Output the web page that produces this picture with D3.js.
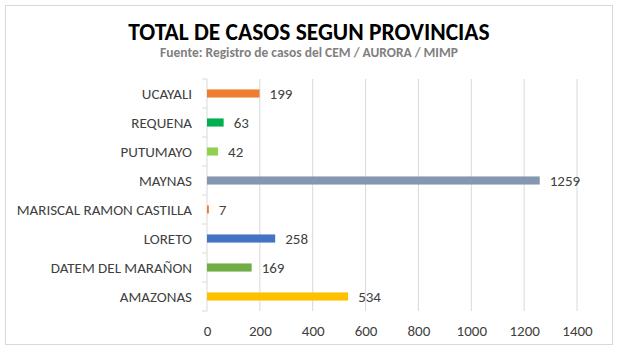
<!DOCTYPE html>
<html>
<head>
<meta charset="utf-8">
<script src="https://cdn.jsdelivr.net/npm/d3@7"></script>
<style>
  body { margin: 0; background: #fff; }
  text { font-family: Carlito, "Liberation Sans", Arial, sans-serif; }
</style>
</head>
<body>
<div id="chart"></div>
<script>
// data, bottom to top as in the picture
var provincias = ["AMAZONAS", "DATEM DEL MARAÑON", "LORETO", "MARISCAL RAMON CASTILLA",
                  "MAYNAS", "PUTUMAYO", "REQUENA", "UCAYALI"];
var casos = [534, 169, 258, 7, 1259, 42, 63, 199];
var colores = ["#FFC000", "#70AD47", "#4472C4", "#ED7D31", "#8497B0", "#92D050", "#00B050", "#ED7D31"];
var xTicks = [0, 200, 400, 600, 800, 1000, 1200, 1400];

var data = provincias.map((d, i) => ({ name: d, value: casos[i], color: colores[i] }));

var W = 623, H = 361;
var margin = {top: 79, right: 46, bottom: 50, left: 207},
    width = 577 - margin.left,
    height = 311 - margin.top;

var svg = d3.select("#chart")
  .append("svg")
    .attr("width", W)
    .attr("height", H);

// chart frame
svg.append("rect")
    .attr("x", 5.5).attr("y", 5.5)
    .attr("width", 607).attr("height", 339)
    .attr("fill", "#fff")
    .attr("stroke", "#d9d9d9");

svg.append("text")
    .attr("x", 309).attr("y", 39.5)
    .attr("text-anchor", "middle")
    .style("font-size", "23.5px")
    .style("font-weight", "bold")
    .style("fill", "#000")
    .text("TOTAL DE CASOS SEGUN PROVINCIAS");

svg.append("text")
    .attr("x", 309).attr("y", 57)
    .attr("text-anchor", "middle")
    .style("font-size", "13.5px")
    .style("font-weight", "bold")
    .style("fill", "#7f7f7f")
    .text("Fuente: Registro de casos del CEM / AURORA / MIMP");

var g = svg.append("g")
    .attr("transform", "translate(" + margin.left + "," + margin.top + ")");

var x = d3.scaleLinear()
    .domain([0, 1400])
    .range([0, width]);

var y = d3.scaleBand()
    .domain(provincias.slice().reverse())
    .range([0, height])
    .paddingInner(0.72)
    .paddingOuter(0.36);

var yb = d3.scaleBand()
    .domain(provincias.slice().reverse())
    .range([0, height]);

// gridlines
g.selectAll(".grid")
  .data(xTicks.slice(1))
  .enter()
  .append("line")
    .attr("x1", d => x(d)).attr("x2", d => x(d))
    .attr("y1", 0).attr("y2", height)
    .attr("stroke", "#d9d9d9");

// x axis labels
g.append("g")
    .attr("transform", "translate(0," + height + ")")
    .call(d3.axisBottom(x).tickValues(xTicks).tickFormat(d3.format("d")).tickSize(0).tickPadding(14))
    .call(a => a.select(".domain").remove())
    .call(a => a.selectAll("text")
        .style("font-size", "15px")
        .style("fill", "#404040")
        .style("font-family", "Carlito, 'Liberation Sans', Arial, sans-serif"));

// y axis line + ticks between categories
g.append("line")
    .attr("x1", 0).attr("x2", 0)
    .attr("y1", 0).attr("y2", height)
    .attr("stroke", "#d9d9d9");
g.selectAll(".ytick")
  .data(d3.range(provincias.length + 1))
  .enter()
  .append("line")
    .attr("x1", -5).attr("x2", 0)
    .attr("y1", d => d * yb.bandwidth()).attr("y2", d => d * yb.bandwidth())
    .attr("stroke", "#d9d9d9");

// category labels
g.selectAll(".cat")
  .data(data)
  .enter()
  .append("text")
    .attr("x", -15)
    .attr("y", d => yb(d.name) + yb.bandwidth() / 2)
    .attr("dy", "0.35em")
    .attr("text-anchor", "end")
    .style("font-size", "15px")
    .style("fill", "#404040")
    .text(d => d.name);

// bars
g.selectAll(".bar")
  .data(data)
  .enter()
  .append("rect")
    .attr("x", 0)
    .attr("y", d => y(d.name))
    .attr("width", d => x(d.value))
    .attr("height", y.bandwidth())
    .attr("fill", d => d.color);

// values
g.selectAll(".val")
  .data(data)
  .enter()
  .append("text")
    .attr("x", d => x(d.value) + 10)
    .attr("y", d => y(d.name) + y.bandwidth() / 2)
    .attr("dy", "0.35em")
    .style("font-size", "15px")
    .style("fill", "#404040")
    .text(d => d.value);
</script>
</body>
</html>
